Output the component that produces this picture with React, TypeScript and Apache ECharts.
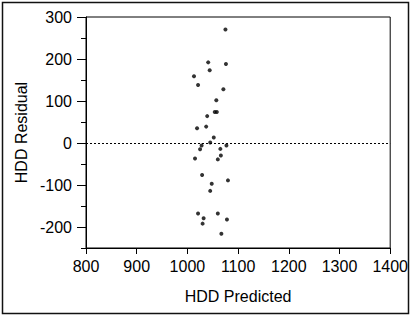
import React, { useEffect, useRef } from "react";
import * as echarts from "echarts";

const predicted = [
  1075, 1041, 1076, 1044, 1013, 1021, 1071, 1057, 1054, 1058, 1039, 1019, 1037, 1052, 1045, 1028,
  1025, 1077, 1065, 1066, 1060, 1015, 1029, 1080, 1048, 1045, 1021, 1060, 1032, 1030, 1078, 1067,
];
const residual = [
  270, 192, 188, 173, 159, 138, 128, 102, 74, 74, 64, 35, 39, 13, 1, -6,
  -15, -6, -14, -30, -39, -37, -76, -89, -97, -114, -168, -168, -179, -192, -182, -216,
];
const xTicks = [800, 900, 1000, 1100, 1200, 1300, 1400];
const yMajor = [-200, -100, 0, 100, 200, 300];
const yMinor = [-250, -150, -50, 50, 150, 250];

const FONT = "Liberation Sans, Arial, sans-serif";

export default function App() {
  const ref = useRef<HTMLDivElement>(null);
  useEffect(() => {
    if (!ref.current) return;
    const chart = echarts.init(ref.current, null, { renderer: "svg" });
    const data = predicted.map((x, i) => [x, residual[i]]);
    chart.setOption({
      animation: false,
      backgroundColor: "#fff",
      textStyle: { fontFamily: FONT, color: "#000" },
      grid: { left: 86, right: 18, top: 17, bottom: 69, show: true, borderColor: "#000", borderWidth: 1 },
      graphic: [
        {
          type: "rect",
          shape: { x: 2.5, y: 2.5, width: 406, height: 311 },
          style: { fill: "none", stroke: "#111", lineWidth: 1.5 },
          silent: true,
        },
      ],
      xAxis: {
        type: "value",
        min: 800,
        max: 1400,
        interval: 100,
        name: "HDD Predicted",
        nameLocation: "middle",
        nameGap: 40,
        nameTextStyle: { fontSize: 16, color: "#000", fontFamily: FONT },
        axisLine: { onZero: false, lineStyle: { color: "#000", width: 1 } },
        axisTick: { show: true, inside: false, length: 6, lineStyle: { color: "#000" }, customValues: xTicks },
        axisLabel: {
          fontSize: 16,
          color: "#000",
          margin: 10,
          fontFamily: FONT,
          customValues: xTicks,
          formatter: (v: number) => String(v),
        },
        splitLine: { show: false },
      },
      yAxis: [
        {
          type: "value",
          min: -250,
          max: 300,
          interval: 50,
          name: "HDD Residual",
          nameLocation: "middle",
          nameGap: 54,
          nameTextStyle: { fontSize: 16, color: "#000", fontFamily: FONT },
          axisLine: { onZero: false, lineStyle: { color: "#000", width: 1 } },
          axisTick: { show: true, inside: false, length: 9, lineStyle: { color: "#000" }, customValues: yMajor },
          axisLabel: {
            fontSize: 16,
            color: "#000",
            margin: 14,
            fontFamily: FONT,
            customValues: yMajor,
            formatter: (v: number) => String(v),
          },
          splitLine: { show: false },
        },
        {
          type: "value",
          position: "left",
          min: -250,
          max: 300,
          interval: 50,
          axisLine: { show: false, onZero: false },
          axisTick: { show: true, inside: false, length: 5, lineStyle: { color: "#000" }, customValues: yMinor },
          axisLabel: { show: false },
          splitLine: { show: false },
        },
      ],
      series: [
        {
          type: "scatter",
          data,
          symbol: "circle",
          symbolSize: 4,
          itemStyle: { color: "#000" },
          markLine: {
            silent: true,
            symbol: "none",
            label: { show: false },
            lineStyle: { color: "#000", type: [2, 2], width: 1 },
            data: [{ yAxis: 0 }],
          },
        },
      ],
    });
    return () => chart.dispose();
  }, []);
  return <div ref={ref} style={{ width: 411, height: 317, position: "absolute", left: 0, top: 0 }} />;
}
